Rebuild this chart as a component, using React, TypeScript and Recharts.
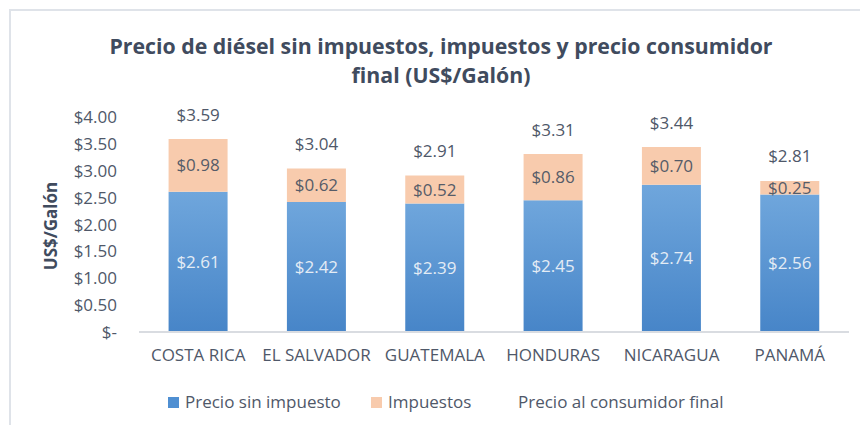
import React from "react";
import { ComposedChart, Bar, Line, XAxis, YAxis, LabelList } from "recharts";

const countries = ["COSTA RICA", "EL SALVADOR", "GUATEMALA", "HONDURAS", "NICARAGUA", "PANAMÁ"];
const precioSinImpuesto = [2.61, 2.42, 2.39, 2.45, 2.74, 2.56];
const impuestos = [0.98, 0.62, 0.52, 0.86, 0.7, 0.25];
const precioFinal = [3.59, 3.04, 2.91, 3.31, 3.44, 2.81];
const yTicks = [0, 0.5, 1, 1.5, 2, 2.5, 3, 3.5, 4];
const seriesNames = ["Precio sin impuesto", "Impuestos", "Precio al consumidor final"];

const data = countries.map((c, i) => ({
  country: c,
  base: precioSinImpuesto[i],
  tax: impuestos[i],
  total: precioFinal[i],
}));

const FONT = "'Open Sans', 'Noto Sans', sans-serif";
const TEXT = "#4f5869";
const TITLE = "#404b5e";

const money = (v: number) => (v === 0 ? "$-" : "$" + v.toFixed(2));

const TotalLabel = (props: any) => {
  const { x, y, value } = props;
  if (x == null || y == null) return null;
  return (
    <text x={x} y={y - 25} textAnchor="middle" dominantBaseline="central" fill={TEXT} fontSize={17} fontFamily={FONT}>
      {money(Number(value))}
    </text>
  );
};

const LegendBlock = () => (
  <div style={{ position: "absolute", left: 0, top: 390, width: 860, height: 24, fontFamily: FONT, fontSize: 17, color: TEXT }}>
    <div style={{ position: "absolute", left: 168, top: 7, width: 11, height: 11, background: "#4f8fd2" }} />
    <div style={{ position: "absolute", left: 185, top: 0, whiteSpace: "nowrap", lineHeight: "24px" }}>{seriesNames[0]}</div>
    <div style={{ position: "absolute", left: 371, top: 7, width: 11, height: 11, background: "#f8cbad" }} />
    <div style={{ position: "absolute", left: 388, top: 0, whiteSpace: "nowrap", lineHeight: "24px" }}>{seriesNames[1]}</div>
    <div style={{ position: "absolute", left: 518, top: 0, whiteSpace: "nowrap", lineHeight: "24px" }}>{seriesNames[2]}</div>
  </div>
);

export default function App() {
  return (
    <div style={{ position: "absolute", left: 0, top: 0, width: 860, height: 425, overflow: "hidden", background: "#fff", fontFamily: FONT }}>
      <div style={{ position: "absolute", left: 9, top: 9, width: 900, height: 500, border: "2px solid #dfe3e9", boxSizing: "border-box" }} />
      <div style={{ position: "absolute", left: 0, top: 31, width: 860, textAlign: "center", color: TITLE, fontWeight: 700, fontSize: 21.3, lineHeight: "29px", paddingLeft: 22, boxSizing: "border-box" }}>
        Precio de diésel sin impuestos, impuestos y precio consumidor
        <br />
        final (US$/Galón)
      </div>
      <div style={{ position: "absolute", left: 50, top: 226, transform: "translate(-50%, -50%) rotate(-90deg)", color: TITLE, fontWeight: 700, fontSize: 17, whiteSpace: "nowrap" }}>
        US$/Galón
      </div>
      <div style={{ position: "absolute", left: 0, top: 0 }}>
        <ComposedChart width={860} height={425} data={data} margin={{ top: 117, right: 11, bottom: 63, left: 0 }} barCategoryGap="25%">
          <defs>
            <linearGradient id="blueGrad" x1="0" y1="0" x2="0" y2="1">
              <stop offset="0%" stopColor="#6fa6dc" />
              <stop offset="100%" stopColor="#4785c8" />
            </linearGradient>
          </defs>
          <XAxis
            dataKey="country"
            height={30}
            tickLine={false}
            axisLine={{ stroke: "#d9dce1", strokeWidth: 2 }}
            tickSize={0}
            tickMargin={17}
            interval={0}
            tick={{ fill: TEXT, fontSize: 17, fontFamily: FONT }}
          />
          <YAxis
            width={139}
            domain={[0, 4]}
            ticks={yTicks}
            interval={0}
            tickFormatter={money}
            axisLine={false}
            tickLine={false}
            tickSize={0}
            tickMargin={22}
            tick={{ fill: TEXT, fontSize: 17, fontFamily: FONT }}
          />
          <Bar dataKey="base" stackId="a" fill="url(#blueGrad)" isAnimationActive={false} name={seriesNames[0]}>
            <LabelList dataKey="base" position="center" formatter={(v: any) => money(Number(v))} fill="#e4ecf5" fontSize={17} fontFamily={FONT} />
          </Bar>
          <Bar dataKey="tax" stackId="a" fill="#f8cbad" isAnimationActive={false} name={seriesNames[1]}>
            <LabelList dataKey="tax" position="center" formatter={(v: any) => money(Number(v))} fill="#565c68" fontSize={17} fontFamily={FONT} />
          </Bar>
          <Line dataKey="total" stroke="none" dot={false} activeDot={false} isAnimationActive={false} name={seriesNames[2]} label={<TotalLabel />} />
        </ComposedChart>
      </div>
      <LegendBlock />
    </div>
  );
}
